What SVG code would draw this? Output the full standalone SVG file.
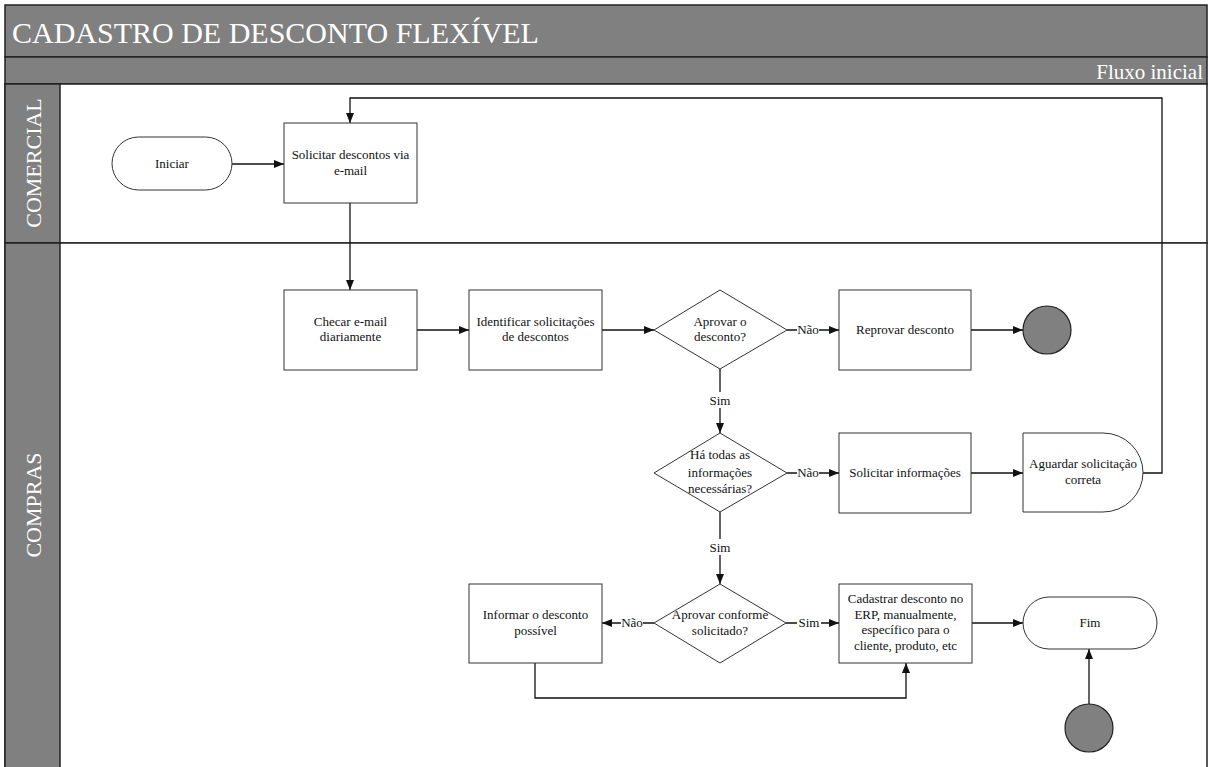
<svg xmlns="http://www.w3.org/2000/svg" width="1210" height="767" viewBox="0 0 1210 767">
<style>
.bar{fill:#808080;stroke:#222;stroke-width:1.5}
.lane{fill:#fff;stroke:#222;stroke-width:1.5}
.node{fill:#fff;stroke:#333;stroke-width:1}
.end{fill:#808080;stroke:#222;stroke-width:1.2}
.t{font-family:'Liberation Serif','DejaVu Serif',serif;font-size:13px;fill:#111;text-anchor:middle}
.hdr{font-family:'Liberation Serif','DejaVu Serif',serif;fill:#fff}
.c{fill:none;stroke:#111;stroke-width:1.3}
.lbl{fill:#fff}
</style>
<defs>
<marker id="ah" viewBox="0 0 10 8" refX="10" refY="4" markerWidth="10" markerHeight="8" markerUnits="userSpaceOnUse" orient="auto">
<path d="M0,0 L10,4 L0,8 z" fill="#111"/>
</marker>
</defs>
<rect x="0" y="0" width="1210" height="767" fill="#fff"/>
<g id="header">
<rect class="bar" x="5" y="5" width="1202" height="52"/>
<text class="hdr" x="12" y="43" font-size="30" font-family="Liberation Serif, serif">CADASTRO DE DESCONTO FLEXÍVEL</text>
<rect class="bar" x="5" y="57" width="1202" height="27"/>
<text class="hdr" x="1203" y="79" font-size="21" text-anchor="end">Fluxo inicial</text>
</g>
<g id="lane-comercial">
<rect class="lane" x="5" y="84" width="1202" height="159"/>
<rect class="bar" x="5" y="84" width="55" height="159"/>
<text class="hdr" font-size="22" text-anchor="middle" transform="translate(41,163) rotate(-90)">COMERCIAL</text>
</g>
<g id="lane-compras">
<rect class="lane" x="5" y="243" width="1202" height="530"/>
<rect class="bar" x="5" y="243" width="55" height="530"/>
<text class="hdr" font-size="22" text-anchor="middle" transform="translate(41,505) rotate(-90)">COMPRAS</text>
</g>
<g id="connectors">
<path class="c" d="M232,164 H284" marker-end="url(#ah)"/>
<path class="c" d="M350,203 V290" marker-end="url(#ah)"/>
<path class="c" d="M417,330 H469" marker-end="url(#ah)"/>
<path class="c" d="M602,330 H654" marker-end="url(#ah)"/>
<path class="c" d="M787,330 H839" marker-end="url(#ah)"/>
<path class="c" d="M971,330 H1023" marker-end="url(#ah)"/>
<path class="c" d="M720,369 V433" marker-end="url(#ah)"/>
<path class="c" d="M787,473 H839" marker-end="url(#ah)"/>
<path class="c" d="M971,473 H1023" marker-end="url(#ah)"/>
<path class="c" d="M1143,473 H1162 V98 H350 V123" marker-end="url(#ah)"/>
<path class="c" d="M720,512 V584" marker-end="url(#ah)"/>
<path class="c" d="M654,623 H602" marker-end="url(#ah)"/>
<path class="c" d="M786,623 H839" marker-end="url(#ah)"/>
<path class="c" d="M972,623 H1023" marker-end="url(#ah)"/>
<path class="c" d="M1089,704 V649" marker-end="url(#ah)"/>
<path class="c" d="M535,663 V698 H906 V663" marker-end="url(#ah)"/>
<rect class="lbl" x="797" y="322" width="22" height="16"/>
<text class="t" x="808" y="334">Não</text>
<rect class="lbl" x="707" y="392" width="26" height="16"/>
<text class="t" x="720" y="405">Sim</text>
<rect class="lbl" x="797" y="465" width="22" height="16"/>
<text class="t" x="808" y="477">Não</text>
<rect class="lbl" x="707" y="539" width="26" height="16"/>
<text class="t" x="720" y="552">Sim</text>
<rect class="lbl" x="621" y="615" width="22" height="16"/>
<text class="t" x="632" y="627">Não</text>
<rect class="lbl" x="797" y="615" width="24" height="16"/>
<text class="t" x="809" y="627">Sim</text>
</g>
<g id="n-iniciar">
<rect class="node" x="112" y="137" width="120" height="53" rx="26.5"/>
<text class="t" x="172" y="168">Iniciar</text>
</g>
<g id="n-solicitar">
<rect class="node" x="284" y="123" width="133" height="80"/>
<text class="t" x="350.5" y="159">Solicitar descontos via</text>
<text class="t" x="350.5" y="175">e-mail</text>
</g>
<g id="n-checar">
<rect class="node" x="284" y="290" width="133" height="80"/>
<text class="t" x="350.5" y="326">Checar e-mail</text>
<text class="t" x="350.5" y="341">diariamente</text>
</g>
<g id="n-identificar">
<rect class="node" x="469" y="290" width="133" height="80"/>
<text class="t" x="535.5" y="326">Identificar solicitações</text>
<text class="t" x="535.5" y="341">de descontos</text>
</g>
<g id="d-aprovar">
<polygon class="node" points="720,290 787,330 720,369 654,330"/>
<text class="t" x="720" y="326">Aprovar o</text>
<text class="t" x="720" y="341">desconto?</text>
</g>
<g id="n-reprovar">
<rect class="node" x="839" y="290" width="132" height="80"/>
<text class="t" x="905" y="334">Reprovar desconto</text>
</g>
<g id="e-reprovado">
<circle class="end" cx="1047" cy="330" r="24"/>
</g>
<g id="d-informacoes">
<polygon class="node" points="720,433 787,473 720,512 654,473"/>
<text class="t" x="720" y="459">Há todas as</text>
<text class="t" x="720" y="477">informações</text>
<text class="t" x="720" y="493">necessárias?</text>
</g>
<g id="n-solicitar-info">
<rect class="node" x="839" y="433" width="132" height="80"/>
<text class="t" x="905" y="477">Solicitar informações</text>
</g>
<g id="n-aguardar">
<path class="node" d="M1023,433 H1103 A40,39.5 0 0 1 1103,512 H1023 Z"/>
<text class="t" x="1083" y="468">Aguardar solicitação</text>
<text class="t" x="1083" y="484">correta</text>
</g>
<g id="d-conforme">
<polygon class="node" points="720,584 786,623 720,663 654,623"/>
<text class="t" x="720" y="619">Aprovar conforme</text>
<text class="t" x="720" y="635">solicitado?</text>
</g>
<g id="n-informar">
<rect class="node" x="469" y="584" width="133" height="79"/>
<text class="t" x="535.5" y="619">Informar o desconto</text>
<text class="t" x="535.5" y="635">possível</text>
</g>
<g id="n-cadastrar">
<rect class="node" x="839" y="584" width="133" height="79"/>
<text class="t" x="905.5" y="603">Cadastrar desconto no</text>
<text class="t" x="905.5" y="619">ERP, manualmente,</text>
<text class="t" x="905.5" y="634">específico para o</text>
<text class="t" x="905.5" y="650">cliente, produto, etc</text>
</g>
<g id="n-fim">
<rect class="node" x="1023" y="597" width="134" height="52" rx="26"/>
<text class="t" x="1090" y="627">Fim</text>
</g>
<g id="e-inicio2">
<circle class="end" cx="1089" cy="728" r="24"/>
</g>
</svg>
